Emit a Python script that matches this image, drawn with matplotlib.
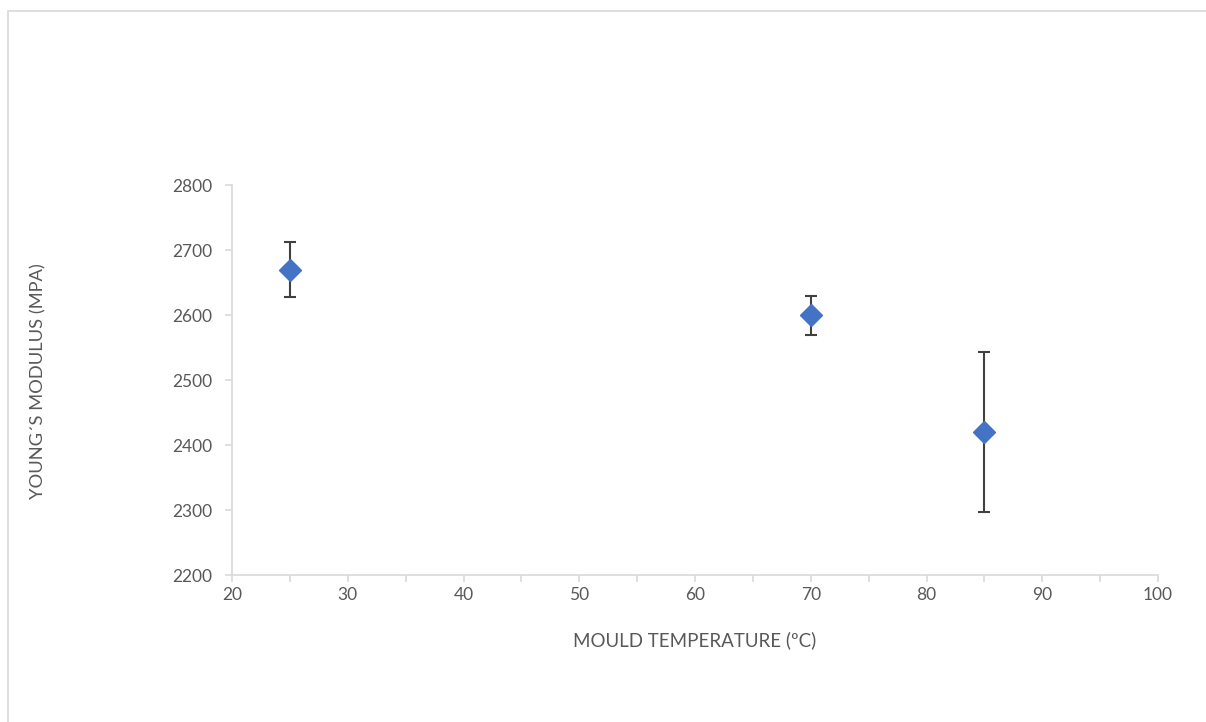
import matplotlib
matplotlib.use("Agg")
import matplotlib.pyplot as plt
from matplotlib.patches import Rectangle
from matplotlib.ticker import MultipleLocator

temps = [25, 70, 85]
modulus = [2670, 2600, 2420]
errors = [42, 30, 123]
x_label = "MOULD TEMPERATURE (ºC)"
y_label = "YOUNG´S MODULUS (MPA)"

plt.rcParams['font.family'] = ['Lato', 'DejaVu Sans']
W, H = 1206, 722
fig = plt.figure(figsize=(W / 100, H / 100), dpi=100)
fig.patches.append(Rectangle((8 / W, -0.1), 1.2, 1 - 11 / H + 0.1, transform=fig.transFigure,
                             fill=False, edgecolor='#d9d9d9', linewidth=1.2))

ax = fig.add_axes([232 / W, (H - 575) / H, 926 / W, 390 / H])
ax.errorbar(temps, modulus, yerr=errors, fmt='none', ecolor='#404040',
            elinewidth=1.5, capsize=4.3, capthick=1.5, zorder=2)
ax.plot(temps, modulus, linestyle='none', marker='D', markersize=11,
        color='#4472C4', markeredgecolor='#4472C4', zorder=3)

ax.set_xlim(20, 100)
ax.set_ylim(2200, 2800)
ax.xaxis.set_major_locator(MultipleLocator(10))
ax.xaxis.set_minor_locator(MultipleLocator(5))
ax.yaxis.set_major_locator(MultipleLocator(100))
for s in ['top', 'right']:
    ax.spines[s].set_visible(False)
for s in ['left', 'bottom']:
    ax.spines[s].set_color('#d9d9d9')
    ax.spines[s].set_linewidth(1.2)
ax.tick_params(which='both', direction='out', color='#d9d9d9', width=1.2,
               labelsize=12.5, labelcolor='#595959')
ax.tick_params(which='major', length=5)
ax.tick_params(which='minor', length=5)
ax.tick_params(axis='x', pad=4)
ax.tick_params(axis='y', pad=9.5)

fig.text(695 / W, 1 - 640 / H, x_label, ha='center', va='center',
         fontsize=13.5, color='#595959')
fig.text(38 / W, 1 - 381 / H, y_label, ha='center', va='center',
         rotation=90, fontsize=13.2, color='#595959')

fig.savefig('out.png', dpi=100)
